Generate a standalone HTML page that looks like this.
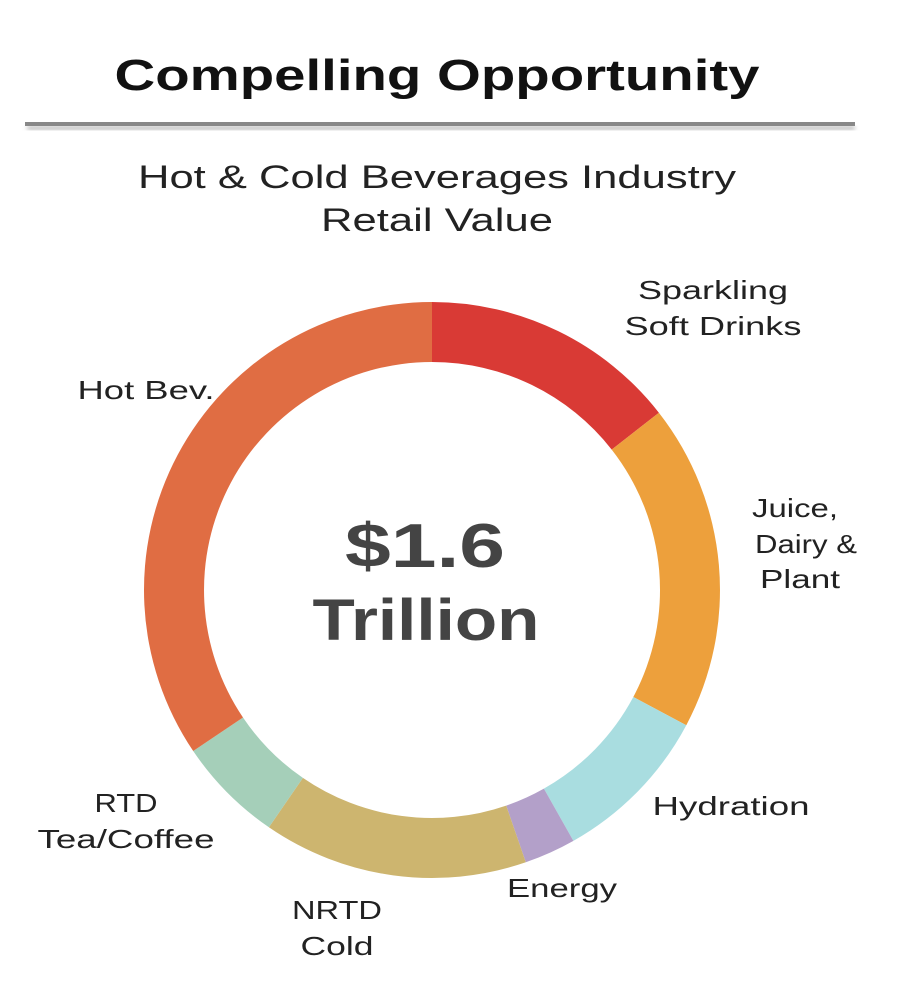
<!DOCTYPE html>
<html><head><meta charset="utf-8"><style>
body{margin:0;background:#fff;}
svg{display:block;font-family:"Liberation Sans",sans-serif;}
</style></head><body>
<svg width="910" height="1005" viewBox="0 0 910 1005">
<defs><filter id="sh"><feGaussianBlur stdDeviation="2"/></filter></defs>
<text x="437" y="90" text-anchor="middle" font-size="44" font-weight="bold" fill="#111" textLength="645" lengthAdjust="spacingAndGlyphs">Compelling Opportunity</text>
<rect x="27" y="126" width="828" height="4" fill="#bbb" filter="url(#sh)"/>
<rect x="25" y="122" width="830" height="4" fill="#888"/>
<text x="437" y="188" text-anchor="middle" font-size="32" fill="#222" textLength="598" lengthAdjust="spacingAndGlyphs">Hot &amp; Cold Beverages Industry</text>
<text x="437" y="231" text-anchor="middle" font-size="32" fill="#222" textLength="232" lengthAdjust="spacingAndGlyphs">Retail Value</text>
<path d="M432 302 A288 288 0 0 1 658.9 412.7 L611.7 449.6 A228 228 0 0 0 432 362Z" fill="#d93a35"/>
<path d="M658.9 412.7 A288 288 0 0 1 686.3 725.2 L633.3 697.0 A228 228 0 0 0 611.7 449.6Z" fill="#eda03c"/>
<path d="M686.3 725.2 A288 288 0 0 1 573.4 840.9 L543.9 788.6 A228 228 0 0 0 633.3 697.0Z" fill="#a9dde0"/>
<path d="M573.4 840.9 A288 288 0 0 1 525.8 862.3 L506.2 805.6 A228 228 0 0 0 543.9 788.6Z" fill="#b3a0c9"/>
<path d="M525.8 862.3 A288 288 0 0 1 268.9 827.3 L302.9 777.9 A228 228 0 0 0 506.2 805.6Z" fill="#cdb56f"/>
<path d="M268.9 827.3 A288 288 0 0 1 193.2 751.0 L243.0 717.5 A228 228 0 0 0 302.9 777.9Z" fill="#a5cfb9"/>
<path d="M193.2 751.0 A288 288 0 0 1 432 302 L432 362 A228 228 0 0 0 243.0 717.5Z" fill="#e06d43"/>
<text x="425" y="567" text-anchor="middle" font-size="62" font-weight="bold" fill="#444" textLength="160" lengthAdjust="spacingAndGlyphs">$1.6</text>
<text x="426" y="640" text-anchor="middle" font-size="58" font-weight="bold" fill="#444" textLength="227" lengthAdjust="spacingAndGlyphs">Trillion</text>
<g font-size="26" fill="#222" text-anchor="middle" lengthAdjust="spacingAndGlyphs">
<text x="713" y="299" textLength="150" lengthAdjust="spacingAndGlyphs">Sparkling</text>
<text x="713" y="335" textLength="177" lengthAdjust="spacingAndGlyphs">Soft Drinks</text>
<text x="146" y="399" textLength="137" lengthAdjust="spacingAndGlyphs">Hot Bev.</text>
<text x="795" y="517" textLength="86" lengthAdjust="spacingAndGlyphs">Juice,</text>
<text x="806" y="553" textLength="102" lengthAdjust="spacingAndGlyphs">Dairy &amp;</text>
<text x="800" y="588" textLength="80" lengthAdjust="spacingAndGlyphs">Plant</text>
<text x="731" y="815" textLength="157" lengthAdjust="spacingAndGlyphs">Hydration</text>
<text x="126" y="812" textLength="63" lengthAdjust="spacingAndGlyphs">RTD</text>
<text x="126" y="848" textLength="177" lengthAdjust="spacingAndGlyphs">Tea/Coffee</text>
<text x="562" y="897" textLength="110" lengthAdjust="spacingAndGlyphs">Energy</text>
<text x="337" y="919" textLength="90" lengthAdjust="spacingAndGlyphs">NRTD</text>
<text x="337" y="955" textLength="73" lengthAdjust="spacingAndGlyphs">Cold</text>
</g>
</svg>
</body></html>
